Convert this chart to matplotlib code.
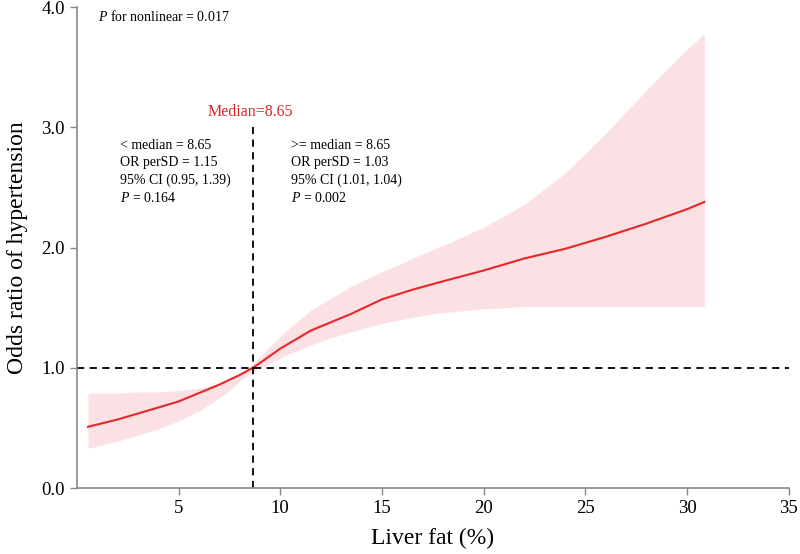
import matplotlib
matplotlib.use("Agg")
from matplotlib import pyplot as plt

# data #
liver_fat = [0.55, 2, 3, 4, 5, 6, 7, 7.5, 8, 8.65, 9, 9.5, 10, 10.5, 11.5, 12.5, 13.5,
             15, 16.5, 18, 20, 22, 24, 26, 28, 30, 30.85]
odds_ratio = [0.51, 0.57, 0.62, 0.67, 0.72, 0.79, 0.86, 0.90, 0.94, 1.00, 1.04, 1.10, 1.16,
              1.21, 1.31, 1.38, 1.45, 1.57, 1.65, 1.72, 1.81, 1.91, 1.99, 2.09, 2.20,
              2.32, 2.38]
ci_lower = [0.33, 0.39, 0.44, 0.49, 0.56, 0.64, 0.75, 0.81, 0.89, 0.97, 1.00, 1.04, 1.08,
            1.12, 1.19, 1.25, 1.30, 1.37, 1.42, 1.46, 1.49, 1.51, 1.51, 1.51, 1.51,
            1.51, 1.51]
ci_upper = [0.79, 0.79, 0.80, 0.80, 0.81, 0.83, 0.87, 0.90, 0.95, 1.03, 1.09, 1.18, 1.26,
            1.34, 1.48, 1.58, 1.68, 1.80, 1.91, 2.02, 2.17, 2.36, 2.62, 2.95, 3.31,
            3.65, 3.78]

median = 8.65
x_ticks = [5, 10, 15, 20, 25, 30, 35]
y_ticks = [0.0, 1.0, 2.0, 3.0, 4.0]

left_text = ["< median = 8.65", "OR perSD = 1.15", "95% CI (0.95, 1.39)", "$\\it{P}$ = 0.164"]
right_text = [">= median = 8.65", "OR perSD = 1.03", "95% CI (1.01, 1.04)", "$\\it{P}$ = 0.002"]

plt.rcParams['font.family'] = ['Liberation Serif', 'DejaVu Serif']
plt.rcParams['mathtext.fontset'] = 'custom'
plt.rcParams['mathtext.it'] = 'Liberation Serif:italic'
plt.rcParams['mathtext.rm'] = 'Liberation Serif'

fig = plt.figure(figsize=(8, 5.54), dpi=100)
ax = fig.add_axes([0.096, 0.119, 0.890, 0.868])

# band + curve #
ax.fill_between(liver_fat, ci_lower, ci_upper, color='#fbe1e4', lw=0)
ax.plot(liver_fat, odds_ratio, color='#e8262b', lw=1.5)

# reference lines #
ax.plot([0, 35], [1, 1], color='black', lw=1.3, dashes=(4, 3))
ax.plot([median, median], [0, 3.03], color='black', lw=1.3, dashes=(4, 3))

# texts #
ax.text(1.03, 3.92, "$\\it{P}$ for nonlinear = 0.017", fontsize=10, va='center', ha='left')
ax.text(8.53, 3.13, "Median=8.65", fontsize=11.5, color='#d9262b', ha='center', va='center')
for i, s in enumerate(left_text):
    ax.text(2.11, 2.85 - i * 0.145, s, fontsize=10, va='center', ha='left')
for i, s in enumerate(right_text):
    ax.text(10.55, 2.85 - i * 0.145, s, fontsize=10, va='center', ha='left')

# axes styling #
ax.set_xlim(0, 35)
ax.set_ylim(0, 4)
ax.set_xticks(x_ticks)
ax.set_yticks(y_ticks)
ax.set_yticklabels(["%.1f" % v for v in y_ticks])
ax.tick_params(labelsize=13.5, color='#888888', length=5, width=1)
for side in ['top', 'right']:
    ax.spines[side].set_visible(False)
for side in ['left', 'bottom']:
    ax.spines[side].set_color('#888888')
    ax.spines[side].set_linewidth(1.2)

ax.set_xlabel("Liver fat (%)", fontsize=17, labelpad=8)
ax.set_ylabel("Odds ratio of hypertension", fontsize=17, labelpad=10)

fig.savefig("out.png", dpi=100)
